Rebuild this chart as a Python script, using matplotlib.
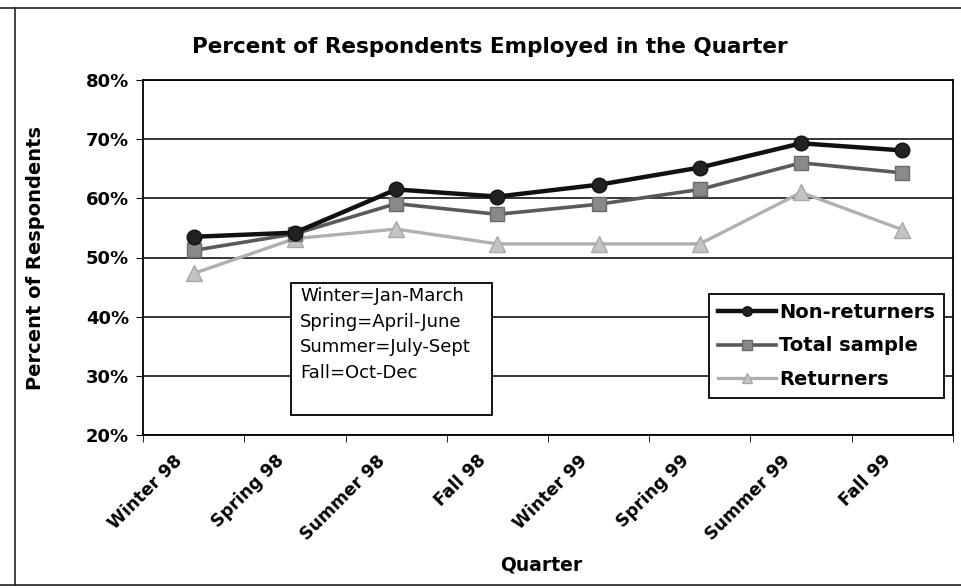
import matplotlib
matplotlib.use("Agg")
import matplotlib.pyplot as plt
from matplotlib.patches import Rectangle
from matplotlib.lines import Line2D
from matplotlib.transforms import ScaledTranslation

plt.rcParams['font.family'] = ['DejaVu Sans']

quarters = ["Winter 98", "Spring 98", "Summer 98", "Fall 98",
            "Winter 99", "Spring 99", "Summer 99", "Fall 99"]
non_returners = [53.5, 54.2, 61.5, 60.3, 62.3, 65.2, 69.3, 68.1]
total_sample = [51.2, 54.0, 59.1, 57.3, 59.0, 61.5, 66.0, 64.3]
returners = [47.3, 53.2, 54.8, 52.3, 52.3, 52.3, 61.0, 54.7]
y_ticks = [20, 30, 40, 50, 60, 70, 80]
y_tick_labels = ["20%", "30%", "40%", "50%", "60%", "70%", "80%"]
season_note = ["Winter=Jan-March", "Spring=April-June", "Summer=July-Sept", "Fall=Oct-Dec"]

W, H = 962, 588
fig = plt.figure(figsize=(W / 100, H / 100), dpi=100)
ax = fig.add_axes([143 / W, 1 - 435 / H, (953 - 143) / W, (435 - 80) / H])

x = list(range(len(quarters)))
ax.plot(x, returners, color="#b0b0b0", lw=2.4, marker="^", ms=11,
        mfc="#c4c4c4", mec="#a8a8a8", label="Returners", zorder=3)
ax.plot(x, total_sample, color="#5a5a5a", lw=2.6, marker="s", ms=10.5,
        mfc="#8a8a8a", mec="#6a6a6a", label="Total sample", zorder=4)
ax.plot(x, non_returners, color="#111111", lw=3.2, marker="o", ms=10.5,
        mfc="#222222", mec="#111111", label="Non-returners", zorder=5)

ax.set_xlim(-0.5, len(quarters) - 0.5)
ax.set_ylim(20, 80)
ax.set_yticks(y_ticks)
ax.set_yticklabels(y_tick_labels, fontsize=13, fontweight="bold")
ax.yaxis.grid(True, color="black", lw=1.1)
ax.set_axisbelow(True)

ax.set_xticks(x)
ax.set_xticklabels(quarters, rotation=45, ha="right", va="top",
                   rotation_mode="anchor", fontsize=12.5, fontweight="bold")
ax.tick_params(axis="x", length=0, pad=12)
off = ScaledTranslation(-20 / 100, 0, fig.dpi_scale_trans)
for lab in ax.get_xticklabels():
    lab.set_transform(lab.get_transform() + off)
ax.set_xticks([i - 0.5 for i in range(len(quarters) + 1)], minor=True)
ax.tick_params(axis="x", which="minor", length=5, direction="out")
ax.tick_params(axis="y", length=5, direction="out", pad=5)

for s in ax.spines.values():
    s.set_color("black")
    s.set_linewidth(1.3)

ax.set_ylabel("Percent of Respondents", fontsize=14, fontweight="bold", labelpad=10)
ax.yaxis.set_label_coords(-(143 - 45) / 810, 0.5)
ax.set_xlabel("Quarter", fontsize=13.5, fontweight="bold")
ax.xaxis.set_label_coords((541 - 143) / 810, -(565 - 435) / 355)
ax.xaxis.label.set_va("center")
fig.text(490 / W, 1 - 47 / H, "Percent of Respondents Employed in the Quarter",
         ha="center", va="center", fontsize=15.5, fontweight="bold")

# season note box
fig.patches.append(Rectangle((291 / W, 1 - 415 / H), (492 - 291) / W, (415 - 283) / H,
                             transform=fig.transFigure, fill=True, fc="white",
                             ec="black", lw=1.3, zorder=6))
fig.text(300 / W, 1 - 287 / H, "\n".join(season_note), ha="left", va="top",
         fontsize=13, linespacing=1.55, zorder=7)

handles, labels = ax.get_legend_handles_labels()
order = [2, 1, 0]
leg = ax.legend([handles[i] for i in order], [labels[i] for i in order],
                loc="upper left", bbox_to_anchor=((709 - 143) / 810, 1 - (294 - 80) / 355),
                frameon=True, fancybox=False, edgecolor="black", framealpha=1,
                prop=dict(size=14, weight="bold"), handlelength=3.0,
                handletextpad=0.15, borderpad=0.45, borderaxespad=0,
                labelspacing=0.75, markerscale=0.65)
leg.get_frame().set_linewidth(1.3)
leg.set_zorder(7)

# outer chart-area border (top, left, bottom)
fig.add_artist(Line2D([0, 1], [1 - 8 / H, 1 - 8 / H], transform=fig.transFigure,
                      color="#222222", lw=1.2))
fig.add_artist(Line2D([15 / W, 15 / W], [1 - 8 / H, 1 - 585 / H], transform=fig.transFigure,
                      color="#222222", lw=1.2))
fig.add_artist(Line2D([0, 1], [1 - 585 / H, 1 - 585 / H], transform=fig.transFigure,
                      color="#222222", lw=1.2))

fig.savefig("out.png", dpi=100, facecolor="white")
